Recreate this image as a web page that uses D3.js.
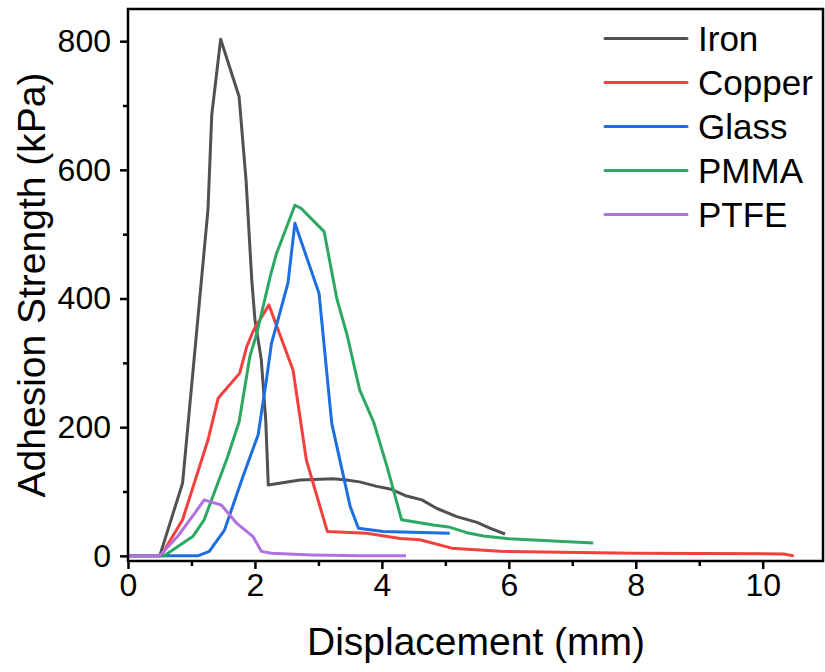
<!DOCTYPE html>
<html>
<head>
<meta charset="utf-8">
<script src="https://cdn.jsdelivr.net/npm/d3@7"></script>
<style>
  body { margin: 0; background: #fff; }
  text { font-family: "Liberation Sans", Arial, sans-serif; fill: #000; }
</style>
</head>
<body>
<div id="chart"></div>
<script>
// data
var seriesNames = ["Iron", "Copper", "Glass", "PMMA", "PTFE"];
var seriesColors = ["#515151", "#F2403E", "#1D6EE0", "#2DA862", "#B171E0"];

var ironX = [0, 0.5, 0.86, 1.26, 1.32, 1.46, 1.75, 1.86, 1.95, 2.0, 2.1, 2.17, 2.21, 2.71, 3.23, 3.44, 3.65, 3.92, 4.13, 4.39, 4.63, 4.86, 5.18, 5.5, 5.7, 5.94];
var ironY = [0, 0, 113, 538, 686, 803, 714, 584, 429, 367, 305, 211, 110, 118, 120, 118, 115, 108, 104, 93, 87, 74, 61, 52, 43, 34];

var copperX = [0, 0.52, 0.86, 1.26, 1.42, 1.76, 1.87, 1.98, 2.22, 2.60, 2.81, 3.14, 3.76, 4.29, 4.60, 5.10, 5.86, 7.96, 10.33, 10.49];
var copperY = [0, 0, 56, 180, 245, 284, 325, 351, 390, 289, 149, 38, 35, 27, 25, 12, 7, 4, 3, 0];

var glassX = [0, 1.10, 1.28, 1.52, 1.81, 2.05, 2.18, 2.26, 2.52, 2.63, 3.01, 3.21, 3.50, 3.63, 4.02, 5.07];
var glassY = [0, 0, 7, 40, 123, 188, 273, 330, 424, 517, 408, 206, 77, 43, 38, 35];

var pmmaX = [0, 0.57, 1.02, 1.20, 1.57, 1.75, 1.92, 2.03, 2.24, 2.34, 2.63, 2.73, 3.09, 3.29, 3.45, 3.65, 3.87, 4.08, 4.31, 4.81, 5.05, 5.34, 5.6, 6.0, 7.33];
var pmmaY = [0, 0, 30, 56, 154, 208, 310, 346, 434, 470, 545, 540, 504, 400, 344, 258, 208, 139, 56, 48, 45, 36, 31, 26.5, 20];

var ptfeX = [0, 0.5, 0.78, 1.05, 1.20, 1.47, 1.72, 1.97, 2.10, 2.26, 2.89, 3.68, 4.38];
var ptfeY = [0, 0, 30, 66, 87, 79, 50, 30, 7, 4, 1.5, 0, 0];

var xTicks = [0, 2, 4, 6, 8, 10];
var xMinor = [1, 3, 5, 7, 9];
var yTicks = [0, 200, 400, 600, 800];
var yMinor = [100, 300, 500, 700];

var svgWidth = 825;
var svgHeight = 672;

var margin = { top: 9, right: 2, bottom: 111, left: 128 };
var width = svgWidth - margin.left - margin.right;
var height = svgHeight - margin.top - margin.bottom;

var svg = d3.select("#chart")
    .append("svg")
    .attr("width", svgWidth)
    .attr("height", svgHeight);

var chartGroup = svg.append("g")
    .attr("transform", `translate(${margin.left}, ${margin.top})`);

var xScale = d3.scaleLinear().domain([0, 10.95]).range([0, width]);
var yScale = d3.scaleLinear().domain([-8, 850]).range([height, 0]);

// minor ticks first, then major ticks with labels
chartGroup.append("g")
    .attr("transform", `translate(0, ${height})`)
    .call(d3.axisBottom(xScale).tickValues(xMinor).tickSize(5).tickSizeOuter(0).tickFormat(""));
chartGroup.append("g")
    .call(d3.axisLeft(yScale).tickValues(yMinor).tickSize(5).tickSizeOuter(0).tickFormat(""));

var xAxis = chartGroup.append("g")
    .attr("class", "x-axis")
    .attr("transform", `translate(0, ${height})`)
    .call(d3.axisBottom(xScale).tickValues(xTicks).tickSize(8).tickSizeOuter(0).tickPadding(4));

var yAxis = chartGroup.append("g")
    .attr("class", "y-axis")
    .call(d3.axisLeft(yScale).tickValues(yTicks).tickSize(8).tickSizeOuter(0).tickPadding(9));

chartGroup.selectAll(".tick line").attr("stroke", "#000").attr("stroke-width", 2.5);
chartGroup.selectAll(".domain").remove();
xAxis.selectAll("text").attr("font-size", "32px").attr("font-family", "Liberation Sans, Arial, sans-serif");
yAxis.selectAll("text").attr("font-size", "32px").attr("font-family", "Liberation Sans, Arial, sans-serif");

// curves
var allSeries = [
  { xs: ironX, ys: ironY },
  { xs: copperX, ys: copperY },
  { xs: glassX, ys: glassY },
  { xs: pmmaX, ys: pmmaY },
  { xs: ptfeX, ys: ptfeY }
];

var line = d3.line()
    .x(d => xScale(d[0]))
    .y(d => yScale(d[1]));

allSeries.forEach(function(s, i) {
    var pts = s.xs.map((v, j) => [v, s.ys[j]]);
    chartGroup.append("path")
        .datum(pts)
        .attr("d", line)
        .attr("fill", "none")
        .attr("stroke", seriesColors[i])
        .attr("stroke-width", 3)
        .attr("stroke-linejoin", "round");
});

// frame
chartGroup.append("rect")
    .attr("x", 0)
    .attr("y", 0)
    .attr("width", width)
    .attr("height", height)
    .attr("fill", "none")
    .attr("stroke", "#000")
    .attr("stroke-width", 2.5);

// legend
var legend = svg.append("g").attr("transform", "translate(605, 38.5)");
seriesNames.forEach(function(name, i) {
    var row = legend.append("g").attr("transform", `translate(0, ${i * 44})`);
    row.append("line")
        .attr("x1", 0).attr("x2", 82)
        .attr("y1", 0).attr("y2", 0)
        .attr("stroke", seriesColors[i])
        .attr("stroke-width", 3)
        .attr("stroke-linecap", "round");
    row.append("text")
        .attr("x", 93)
        .attr("y", 12)
        .attr("font-size", "35px")
        .text(name);
});

// axis labels
svg.append("text")
    .attr("transform", "rotate(-90)")
    .attr("x", -(margin.top + height / 2))
    .attr("y", 45)
    .attr("text-anchor", "middle")
    .attr("font-size", "39px")
    .text("Adhesion Strength (kPa)");

svg.append("text")
    .attr("x", 476)
    .attr("y", 655)
    .attr("text-anchor", "middle")
    .attr("font-size", "39px")
    .text("Displacement (mm)");
</script>
</body>
</html>
